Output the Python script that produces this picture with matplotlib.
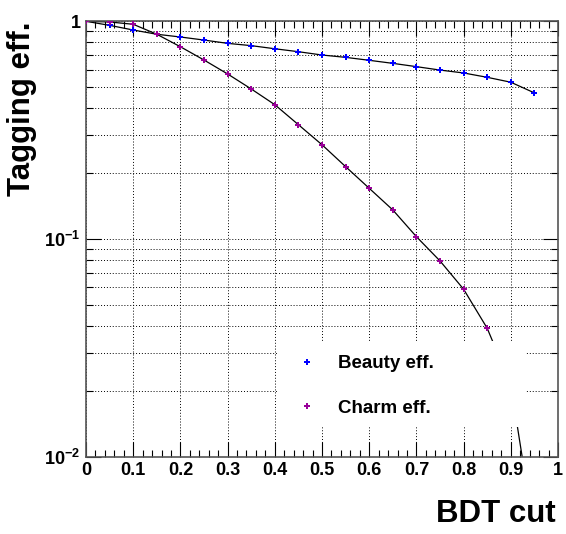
import matplotlib
matplotlib.use("Agg")
import matplotlib.pyplot as plt
from matplotlib.lines import Line2D
from matplotlib.patches import Rectangle
from matplotlib.ticker import MultipleLocator, LogLocator, NullFormatter

# BDT cut values
bdt_cut = [0.0, 0.05, 0.1, 0.15, 0.2, 0.25, 0.3, 0.35, 0.4, 0.45,
           0.5, 0.55, 0.6, 0.65, 0.7, 0.75, 0.8, 0.85, 0.9, 0.95]

beauty_eff = [1.0, 0.958, 0.912, 0.872, 0.847, 0.820, 0.792, 0.773, 0.748, 0.725,
              0.700, 0.683, 0.662, 0.641, 0.619, 0.597, 0.579, 0.553, 0.525, 0.469]

charm_eff = [1.0, 0.993, 0.969, 0.872, 0.764, 0.664, 0.573, 0.489, 0.414, 0.335,
             0.271, 0.215, 0.171, 0.136, 0.1025, 0.0793, 0.0588, 0.0389, 0.0214, 0.0044]

x_ticks = [0.0, 0.1, 0.2, 0.3, 0.4, 0.5, 0.6, 0.7, 0.8, 0.9, 1.0]
x_tick_labels = ["0", "0.1", "0.2", "0.3", "0.4", "0.5", "0.6", "0.7", "0.8", "0.9", "1"]
y_ticks = [0.01, 0.1, 1.0]
y_tick_labels = [r"10$^{\mathregular{-2}}$", r"10$^{\mathregular{-1}}$", "1"]

series_labels = ["Beauty eff.", "Charm eff."]
beauty_color = "#0000ff"
charm_color = "#990099"

plt.rcParams["font.family"] = ["Liberation Sans", "DejaVu Sans"]
plt.rcParams["font.weight"] = "bold"
plt.rcParams["mathtext.fontset"] = "custom"
plt.rcParams["mathtext.rm"] = "Liberation Sans:bold"
plt.rcParams["mathtext.it"] = "Liberation Sans:bold"
plt.rcParams["mathtext.bf"] = "Liberation Sans:bold"

fig = plt.figure(figsize=(5.66, 5.34), dpi=100)
ax = fig.add_axes([86 / 566, 1 - 456.7 / 534, 472 / 566, 435.4 / 534])

# curves: thin black line through the points, markers on top
ax.plot(bdt_cut, beauty_eff, color="black", lw=0.9, zorder=2)
ax.plot(bdt_cut, charm_eff, color="black", lw=0.9, zorder=2)
ax.plot(bdt_cut, beauty_eff, ls="none", marker="P", ms=5, color=beauty_color, mew=0, zorder=3)
ax.plot(bdt_cut, charm_eff, ls="none", marker="P", ms=5, color=charm_color, mew=0, zorder=3)

ax.set_yscale("log")
ax.set_xlim(0, 1)
ax.set_ylim(0.01, 1)

ax.set_xticks(x_ticks)
ax.set_xticklabels(x_tick_labels)
ax.xaxis.set_minor_locator(MultipleLocator(0.02))
ax.set_yticks(y_ticks)
ax.set_yticklabels(y_tick_labels)
ax.yaxis.set_minor_locator(LogLocator(base=10, subs=range(2, 10)))
ax.yaxis.set_minor_formatter(NullFormatter())

ax.tick_params(which="both", direction="in", top=True, right=True, color="black", width=0.8)
ax.tick_params(which="major", length=10.5, labelsize=13)
ax.tick_params(which="minor", length=5.2)
ax.tick_params(axis="x", which="major", pad=4)
ax.tick_params(axis="y", which="major", pad=4)

# dotted grid like ROOT
grid_style = dict(color="black", linestyle=(0, (1, 2)), linewidth=0.7)
ax.grid(True, axis="x", which="major", **grid_style)
ax.grid(True, axis="y", which="both", **grid_style)

for s in ax.spines.values():
    s.set_color("#555555")
    s.set_linewidth(1.2)

# white legend box covering grid and curves
ax.add_patch(Rectangle((0.405, 0.068), 0.527, 0.198, transform=ax.transAxes,
                       facecolor="white", edgecolor="none", zorder=5))
handles = [Line2D([], [], ls="none", marker="P", ms=5, mew=0, color=beauty_color),
           Line2D([], [], ls="none", marker="P", ms=5, mew=0, color=charm_color)]
leg = ax.legend(handles, series_labels, loc="center left", bbox_to_anchor=(0.4477, 0.162),
                frameon=False, fontsize=13.5, handlelength=1.0, handletextpad=1.17,
                labelspacing=1.46, borderpad=0, borderaxespad=0)
leg.set_zorder(6)

fig.text(556 / 566, 1 - 521.7 / 534, "BDT cut", ha="right", va="baseline", fontsize=22.5)
fig.text(7 / 566, 1 - 21 / 534, "Tagging eff.", ha="left", va="top", rotation=90, fontsize=22.5)

plt.savefig("out.png", dpi=100)
plt.close()
